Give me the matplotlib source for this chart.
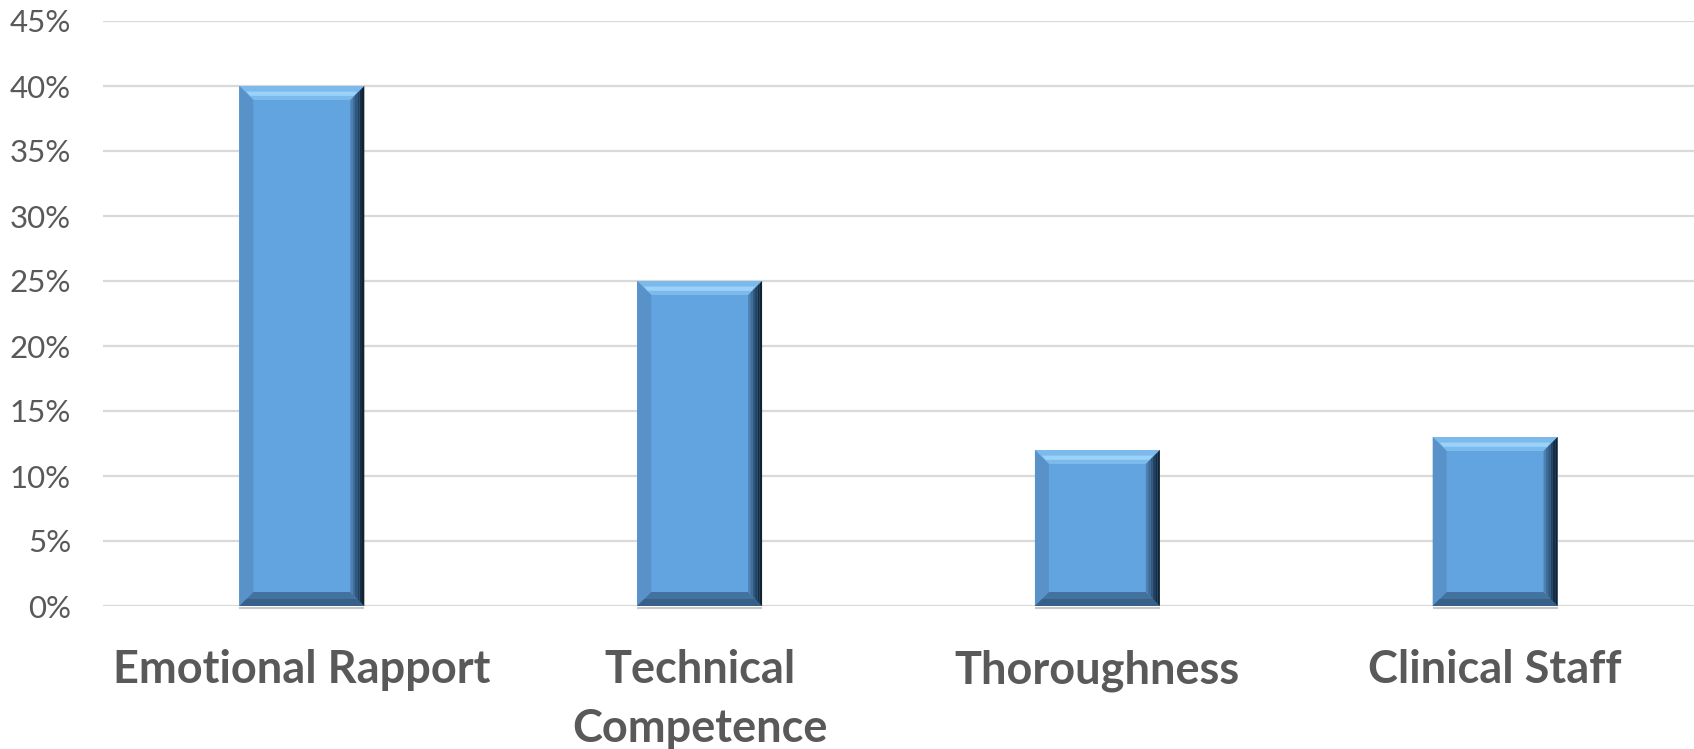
import numpy as np
import matplotlib.pyplot as plt
from matplotlib.patches import Polygon
from matplotlib.ticker import FuncFormatter

categories = ['Emotional Rapport', 'Technical\nCompetence', 'Thoroughness', 'Clinical Staff']
values = [40, 25, 12, 13]
yticks = [0, 5, 10, 15, 20, 25, 30, 35, 40, 45]

plt.rcParams['font.family'] = ['Lato', 'DejaVu Sans']

fig = plt.figure(figsize=(16.94, 7.49), dpi=100)
ax = fig.add_axes([103 / 1694, 1 - 606 / 749, 1 - 103 / 1694, (606 - 21) / 749])

x = np.arange(len(categories))
bars = ax.bar(x, values, width=0.314, color='#62a4e0', zorder=3)

ax.set_xlim(-0.5, len(categories) - 0.5)
ax.set_ylim(0, 45)
ax.set_yticks(yticks)
ax.yaxis.set_major_formatter(FuncFormatter(lambda v, p: f'{v:.0f}%'))
ax.grid(axis='y', color='#d9d9d9', linewidth=1.6, zorder=0)
for s in ax.spines.values():
    s.set_visible(False)
ax.tick_params(axis='y', length=0, pad=23, labelsize=22.5, labelcolor='#595959')
ax.set_xticks(x)
ax.set_xticklabels(categories, fontsize=32.5, fontweight='bold', color='#595959',
                   linespacing=1.5, va='top')
ax.tick_params(axis='x', length=0, pad=31)

# bevel edges on each bar, 14 px wide
inv = ax.transData.inverted()
p0 = inv.transform((0, 0))
p1 = inv.transform((14, 14))
bx, by = p1 - p0


def band(pts, c):
    ax.add_patch(Polygon(pts, closed=True, facecolor=c, edgecolor='none', zorder=4))


for r in bars:
    x0, y0 = r.get_x(), r.get_y()
    x1, y1 = x0 + r.get_width(), y0 + r.get_height()
    # top
    band([(x0, y1), (x1, y1), (x1 - bx, y1 - by), (x0 + bx, y1 - by)], '#7dbaec')
    band([(x0 + bx * 0.5, y1 - by * 0.4), (x1 - bx * 0.5, y1 - by * 0.4),
          (x1 - bx * 0.75, y1 - by * 0.7), (x0 + bx * 0.75, y1 - by * 0.7)], '#9ad2fa')
    # left
    band([(x0, y0), (x0, y1), (x0 + bx, y1 - by), (x0 + bx, y0 + by)], '#5892c9')
    # bottom
    band([(x0, y0), (x1, y0), (x1 - bx, y0 + by), (x0 + bx, y0 + by)], '#44729e')
    band([(x0, y0), (x1, y0), (x1 - bx * 0.5, y0 + by * 0.5), (x0 + bx * 0.5, y0 + by * 0.5)], '#38618a')
    # right, darkening towards the edge
    shades = ['#4e81b1', '#3f6b96', '#30577c', '#234262', '#172d43', '#12222f']
    n = len(shades)
    for i, c in enumerate(shades):
        a = x1 - bx + bx * i / n
        b = x1 - bx + bx * (i + 1) / n
        fa = (a - (x1 - bx)) / bx
        fb = (b - (x1 - bx)) / bx
        band([(a, y1 - by * (1 - fa)), (b, y1 - by * (1 - fb)),
              (b, y0 + by * (1 - fb)), (a, y0 + by * (1 - fa))], c)
    # thin shadow under bar
    ax.plot([x0, x1], [y0 - 0.12, y0 - 0.12], color='#c8c8c8', lw=1.5, zorder=2,
            solid_capstyle='butt', clip_on=False)

fig.savefig('out.png', dpi=100)
